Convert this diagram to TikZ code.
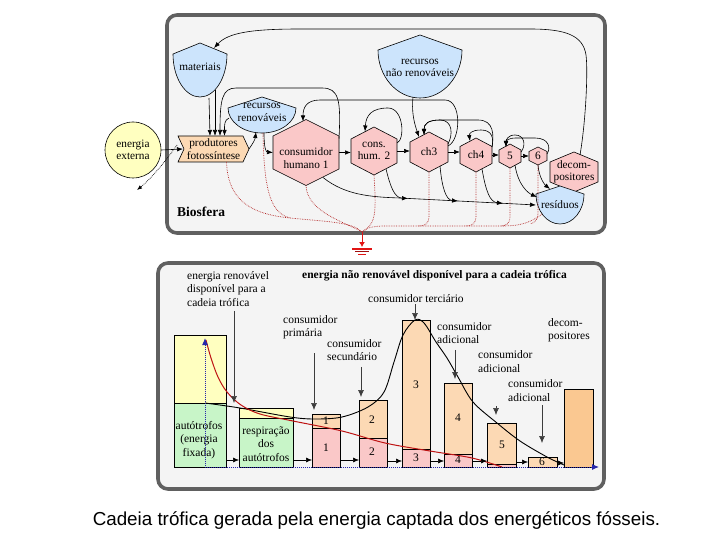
\documentclass[tikz,border=0pt]{standalone}
\usepackage{fontspec}
\setmainfont{Liberation Serif}
\newfontfamily\capfont{Liberation Sans}
\usetikzlibrary{arrows.meta,calc}
\definecolor{panelfill}{RGB}{244,244,244}
\definecolor{panelline}{RGB}{96,96,96}
\definecolor{blueF}{RGB}{204,228,252}
\definecolor{pinkF}{RGB}{250,200,200}
\definecolor{orangeF}{RGB}{252,217,180}
\definecolor{yellowF}{RGB}{255,255,192}
\definecolor{greenF}{RGB}{200,245,200}
\definecolor{decF}{RGB}{250,200,145}
\definecolor{heatred}{RGB}{180,40,40}
\definecolor{curvered}{RGB}{190,20,20}
\definecolor{gred}{RGB}{225,20,20}
\definecolor{dotblue}{RGB}{40,40,170}
\definecolor{graytip}{RGB}{60,60,60}
\newcommand\myHex[5]{\filldraw[fill=#5,draw=black,line width=0.6pt] (#1-#3,#2-#4/2) -- (#1,#2-#4) -- (#1+#3,#2-#4/2) -- (#1+#3,#2+#4/2) -- (#1,#2+#4) -- (#1-#3,#2+#4/2) -- cycle;}
\newcommand\myTank[5]{\filldraw[fill=blueF,draw=black,line width=0.6pt] (#1-#5,#3) -- (#1,#2) -- (#1+#5,#3) .. controls (#1+#5,{#3+0.552*(#4-#3)}) and ({#1+0.552*#5},#4) .. (#1,#4) .. controls ({#1-0.552*#5},#4) and (#1-#5,{#3+0.552*(#4-#3)}) .. cycle;}
\newcommand\myBar[6]{\node[barbox,fill=#6,minimum width=#4,minimum height=#5,anchor=north west] (#1) at (#2,#3) {};}
\begin{document}
\begin{tikzpicture}[x=1pt,y=-1pt,
  flow/.style={draw=black,line width=0.6pt,-{Latex[length=6pt,width=4.5pt]}},
  lbl/.style={font=\fontsize{11.3}{12.5}\selectfont,inner sep=0,align=center},
  sbox/.style={draw=none,inner sep=0,outer sep=0},
  heat/.style={draw=heatred,densely dotted,line width=0.7pt},
  panel/.style={draw=panelline,line width=3.6pt,fill=panelfill,rounded corners=10pt},
  gtip/.style={draw=graytip,line width=0.6pt,-{Latex[length=7pt,width=6pt]}},
  hflow/.style={draw=black,line width=0.6pt,-{Latex[length=6pt,width=5pt]}},
  barbox/.style={draw=black,line width=0.6pt,inner sep=0,outer sep=0},
  blbl/.style={font=\fontsize{11.5}{13.5}\selectfont,inner sep=0,align=left,anchor=west},
  num/.style={font=\fontsize{11.5}{13.5}\selectfont,inner sep=0}
]
\useasboundingbox (0,0) rectangle (720,540);
\fill[white] (0,0) rectangle (720,540);
\draw[panel] (167,15) rectangle (605,233);
\draw[panel] (158,263) rectangle (604,489);

% ---------- top panel shapes ----------
\node[circle,draw=black,line width=0.6pt,fill=yellowF,minimum size=56,lbl] (ext) at (133,150) {energia\\externa};
\filldraw[fill=orangeF,draw=black,line width=0.6pt] (178,136) -- (243,136) -- (249,149) -- (243,162) -- (178,162) -- (184,149) -- cycle;
\node[sbox,lbl,minimum width=71,minimum height=26] (prod) at (213.5,149) {produtores\\fotossíntese};

\myTank{200}{43}{54}{97}{27}
\node[sbox,minimum width=54,minimum height=54] (mat) at (200,70) {};
\node[lbl] (matT) at (200,67) {materiais};

\myHex{306}{152.5}{33}{33}{pinkF}
\node[sbox,minimum width=66,minimum height=66] (hum1) at (306,152.5) {};
\node[lbl] (hum1T) at (306,158) {consumidor\\humano 1};
\myHex{374}{151}{23}{24}{pinkF}
\node[sbox,lbl,minimum width=46,minimum height=48] (hum2) at (374,151) {cons.\\hum. 2};
\myHex{429}{152}{19}{20}{pinkF}
\node[sbox,lbl,minimum width=38,minimum height=40] (ch3) at (429,152) {ch3};
\myHex{476}{155}{16}{17}{pinkF}
\node[sbox,lbl,minimum width=32,minimum height=34] (ch4) at (476,155) {ch4};
\myHex{510}{156}{11}{12}{pinkF}
\node[sbox,lbl,minimum width=22,minimum height=24] (c5) at (510,156) {5};
\myHex{538}{156}{9}{9}{pinkF}
\node[sbox,lbl,minimum width=18,minimum height=18] (c6) at (538,156) {6};
\myHex{574}{172}{24}{20}{pinkF}
\node[sbox,lbl,minimum width=48,minimum height=40] (dec) at (574,172) {decom-\\positores};
\myTank{560}{186}{194}{224}{24}
\node[sbox,lbl,minimum width=48,minimum height=38] (res) at (560,205) {resíduos};

% long loop from ch3 to hum1 (passes behind the non-renewable tank)
\draw[flow] ($(ch3.east)+(0,-6)$) .. controls (461,140) and (462,100) .. (445,100) -- (320,100) .. controls (306,100) and (303,108) .. ($(hum1.north)+(-3,2)$);

\myTank{420}{35}{50}{98}{42}
\node[sbox,minimum width=84,minimum height=63] (nrr) at (420,66.5) {};
\node[lbl] (nrrT) at (420,68) {recursos\\não renováveis};

\myTank{262}{97}{108}{133}{34}
\node[sbox,minimum width=68,minimum height=36] (rr) at (262,115) {};
\node[lbl] (rrT) at (262,112.5) {recursos\\renováveis};

\node[font=\bfseries\fontsize{13.5}{15}\selectfont,inner sep=0,anchor=west] (bio) at (177,212) {Biosfera};

% ---------- top panel connectors ----------
\draw[flow] (ext.east) -- ($(prod.west)+(5,0)$);
\coordinate (loss) at (137,190);
\draw[densely dotted,line width=0.7pt,-{Latex[length=5pt,width=4pt]}] ($(prod.west)+(-1,-4)$) .. controls (168,158) and (152,178) .. (loss);
\draw[flow] ($(mat.south)+(9,1)$) -- ($(prod.north)+(-3.5,0)$);
\draw[flow] ($(mat.south)+(15,-7)$) -- ($(prod.north)+(1.5,0)$);
\draw[flow] ($(hum1.east)+(0,-14)$) .. controls (341,100) and (339,88) .. (322,88) -- (236,88) .. controls (222,88) and (220,100) .. ($(prod.north)+(6.5,0)$);
\draw[flow] ($(rr.west)+(1,3)$) .. controls (224,120) and (224.5,126) .. ($(prod.north)+(11,0)$);
\draw[flow] (prod.east) .. controls (253,143) and (255,140) .. ($(rr.south)+(-6,-1)$);
\draw[flow] ($(rr.south)+(2,0)$) .. controls (264,148) and (266,152) .. (hum1.west);
\draw[flow] (hum1.east) -- (hum1.east -| hum2.west);
\draw[flow] (hum2.east) -- (hum2.east -| ch3.west);
\draw[flow] (ch3.east) -- (ch3.east -| ch4.west);
\draw[flow] (ch4.east) -- (ch4.east -| c5.west);
\draw[flow] (c5.east) -- (c5.east -| c6.west);
\draw[flow] ($(nrr.south)+(-7,-1)$) .. controls (411,115) and (416,128) .. ($(ch3.north)+(-10,5)$);
\draw[flow] ($(hum2.east)+(0,-8)$) .. controls (405,140) and (404,108) .. (388,108) .. controls (372,108) and (366,115) .. ($(hum2.north)+(-9,4.5)$);
\draw[flow] ($(ch3.east)+(0,-8)$) .. controls (453,135) and (453,120) .. (440,120) .. controls (428,120) and (424,124) .. ($(ch3.north)+(-5,3)$);
\draw[flow] ($(ch4.east)+(0,-8)$) .. controls (494,135) and (494,120) .. (478,120) -- (440,120) .. controls (428,120) and (424,124) .. ($(ch3.north)+(-5,3)$);
\draw[flow] ($(ch4.east)+(0,-8)$) .. controls (494,138) and (492,130) .. (481,130) .. controls (471,130) and (469,134) .. ($(ch4.north)+(-6,3)$);
\draw[flow] ($(c5.east)+(0,-4)$) .. controls (526,146) and (525,135) .. (515,135) .. controls (508,135) and (506,140) .. ($(c5.north)+(-4,3)$);
\draw[flow] ($(c6.east)+(0,-2)$) .. controls (551,148) and (549,138) .. (535,138) -- (516,138) .. controls (508,138) and (506,141) .. ($(c5.north)+(-4,3)$);
\draw[flow] ($(dec.north)+(6,3)$) .. controls (586,120) and (588,70) .. (586,55) .. controls (583,35) and (565,29) .. (530,29) -- (300,29) .. controls (250,29) and (228,33) .. ($(mat.north)+(14,5)$);
% outflows to residues
\coordinate (m1) at (408,198.4);
\coordinate (m2) at (458,201);
\coordinate (m3) at (503,203.4);
\draw[flow] ($(hum1.south)+(17,-8)$) .. controls (345,195) and (370,197) .. (400,198) -- (res.west);
\draw[flow] ($(hum2.south)+(12,-6)$) .. controls (390,185) and (394,198) .. (m1);
\draw[flow] ($(ch3.south)+(11,-6)$) .. controls (442,188) and (446,200) .. (m2);
\draw[flow] ($(ch4.south)+(6,-3)$) .. controls (486,192) and (490,202) .. (m3);
\draw[flow] ($(c5.south)+(5,-3)$) .. controls (518,185) and (528,193) .. ($(res.west)+(1,-8)$);
\draw[flow] (c6.south) .. controls (539,178) and (545,185) .. ($(res.north)+(-10,3)$);
% heat sinks
\coordinate (sink) at (362,232);
\draw[heat] ($(prod.south)+(13,0)$) .. controls (228,200) and (250,214) .. (290,218) .. controls (330,222) and (352,222) .. (sink);
\draw[heat] ($(rr.south)+(1,0)$) .. controls (264,195) and (272,213) .. (290,218);
\draw[heat] (hum1.south) .. controls (307,212) and (345,222) .. (sink);
\draw[heat] (hum2.south) .. controls (376,210) and (377,224) .. (sink);
\draw[heat] ($(res.south)+(-18,-10)$) .. controls (528,225) and (515,226) .. (500,226) -- (385,226) .. controls (372,226) and (366,228) .. (sink);
\draw[heat] (ch3.south) -- (429,216) .. controls (429,224) and (425,226) .. (418,226);
\draw[heat] (ch4.south) -- (476,216) .. controls (476,224) and (472,226) .. (465,226);
\draw[heat] (c5.south) -- (510,216) .. controls (510,224) and (506,226) .. (500,226);
\draw[heat] (c6.south) -- (538,214) .. controls (538,220) and (534,223) .. (530,224);
\coordinate (gnd) at (362,247);
\draw[gred,line width=1pt,-{Latex[length=5pt,width=6pt]}] (sink) -- (gnd);
\draw[gred,line width=1.3pt] (352,249) -- (372,249);
\draw[gred!70!black,line width=1.3pt] (355,251.7) -- (369,251.7);
\draw[gred,line width=1.3pt] (358,254.4) -- (366,254.4);

% ---------- bottom panel ----------
\myBar{aTop}{174}{335}{52}{68}{yellowF}
\myBar{aBot}{174}{403}{52}{64}{greenF}
\myBar{rTop}{239}{408}{54}{10}{yellowF}
\myBar{rBot}{239}{418}{54}{49}{greenF}
\myBar{b1T}{312}{414}{28}{14}{orangeF}
\myBar{b1B}{312}{428}{28}{39}{pinkF}
\myBar{b2T}{359}{400}{28}{38}{orangeF}
\myBar{b2B}{359}{438}{28}{29}{pinkF}
\myBar{b3T}{402}{320}{28}{129}{orangeF}
\myBar{b3B}{402}{449}{28}{18}{pinkF}
\myBar{b4T}{444}{383}{28}{71}{orangeF}
\myBar{b4B}{444}{454}{28}{13}{pinkF}
\myBar{b5T}{487}{423}{29}{41}{orangeF}
\myBar{b5B}{487}{464}{29}{3}{pinkF}
\myBar{b6}{528}{457}{29}{10}{orangeF}
\myBar{bD}{564}{389}{29}{78}{decF}

\node[num,align=center] (aT) at (199,440) {autótrofos\\(energia\\fixada)};
\node[num,align=center] (rT) at (266,444) {respiração\\dos\\autótrofos};
\node[num] (n1a) at (326,421) {1};
\node[num] (n1b) at (326,448) {1};
\node[num] (n2a) at (372,420) {2};
\node[num] (n2b) at (372,452) {2};
\node[num] (n3a) at (416,385) {3};
\node[num] (n3b) at (416,458) {3};
\node[num] (n4a) at (458,418) {4};
\node[num] (n4b) at (458,460) {4};
\node[num] (n5) at (502,445) {5};
\node[num] (n6) at (542,462) {6};

\node[blbl] (renT) at (187,289) {energia renovável\\disponível para a\\cadeia trófica};
\node[font=\bfseries\fontsize{11.5}{13.5}\selectfont,inner sep=0,anchor=west] (titT) at (302,276) {energia não renovável disponível para a cadeia trófica};
\node[blbl] (tercT) at (368,299) {consumidor terciário};
\node[blbl] (primT) at (283,327) {consumidor\\primária};
\node[blbl] (secT) at (327,350) {consumidor\\secundário};
\node[blbl] (ad1T) at (437,333) {consumidor\\adicional};
\node[blbl] (ad2T) at (478,361.5) {consumidor\\adicional};
\node[blbl] (ad3T) at (508,390.5) {consumidor\\adicional};
\node[blbl] (decT) at (548,330) {decom-\\positores};

% curves
\draw[black,line width=0.9pt] plot[smooth,tension=0.55] coordinates {(205,403) (240,408) (290,417) (315,419) (342,417) (368,407) (384,392) (394,362) (403,335) (415,320) (424,323) (436,342) (447,358) (458,377) (473,402) (497,423) (520,441) (547,457) (564,465)};
\draw[curvered,line width=1pt] plot[smooth,tension=0.55] coordinates {(206,340) (211,358) (218,377) (227,392) (241,405) (260,414) (293,421) (342,431) (385,443) (430,451) (472,458) (502,467)};

% gray pointers
\coordinate (pR) at (234,403);
\coordinate (p1) at (314,410);
\coordinate (p2) at (361,397);
\coordinate (p3) at (415,320);
\coordinate (p4) at (455,379);
\coordinate (p5) at (496,415);
\coordinate (p6) at (542,443);
\draw[gtip] (renT.south -| pR) ++(0,4) -- (pR);
\draw[gtip] (p1 |- primT.south) ++(0,14) -- (p1);
\draw[gtip] (p2 |- secT.south) ++(0,6) -- (p2);
\draw[gtip] (p3 |- tercT.south) ++(0,1) -- (p3);
\draw[gtip] (p4 |- ad1T.south) ++(0,6) -- (p4);
\draw[gtip] (496,406) -- (p5);
\draw[gtip] (p6 |- ad3T.south) ++(0,4) -- (p6);

% horizontal transfers
\draw[hflow] (aBot.east |- 0,460) -- (rBot.west |- 0,460);
\draw[hflow] (rBot.east |- 0,460) -- (b1B.west |- 0,460);
\draw[hflow] (b1B.east |- 0,460) -- (b2B.west |- 0,460);
\draw[hflow] (b2B.east |- 0,461) -- (b3B.west |- 0,461);
\draw[hflow] (b3B.east |- 0,461) -- (b4B.west |- 0,461);
\draw[hflow] (b4B.east |- 0,461) -- (b5T.west |- 0,461);
\draw[hflow] (b5T.east |- 0,462) -- (b6.west |- 0,462);
\draw[hflow] (b6.east |- 0,463) -- (bD.west |- 0,463);

% blue dotted axes
\coordinate (axTop) at (205,338);
\coordinate (axO) at (205,467);
\coordinate (axEnd) at (599,467);
\draw[dotblue,densely dotted,line width=1pt,{Latex[length=7pt,width=6pt]}-{Latex[length=7pt,width=6pt]}] (axTop) -- (axO) -- (axEnd);

\node[font=\capfont\fontsize{18.8}{21}\selectfont,inner sep=0] (cap) at (376.5,521) {Cadeia trófica gerada pela energia captada dos energéticos fósseis.};
\end{tikzpicture}
\end{document}
